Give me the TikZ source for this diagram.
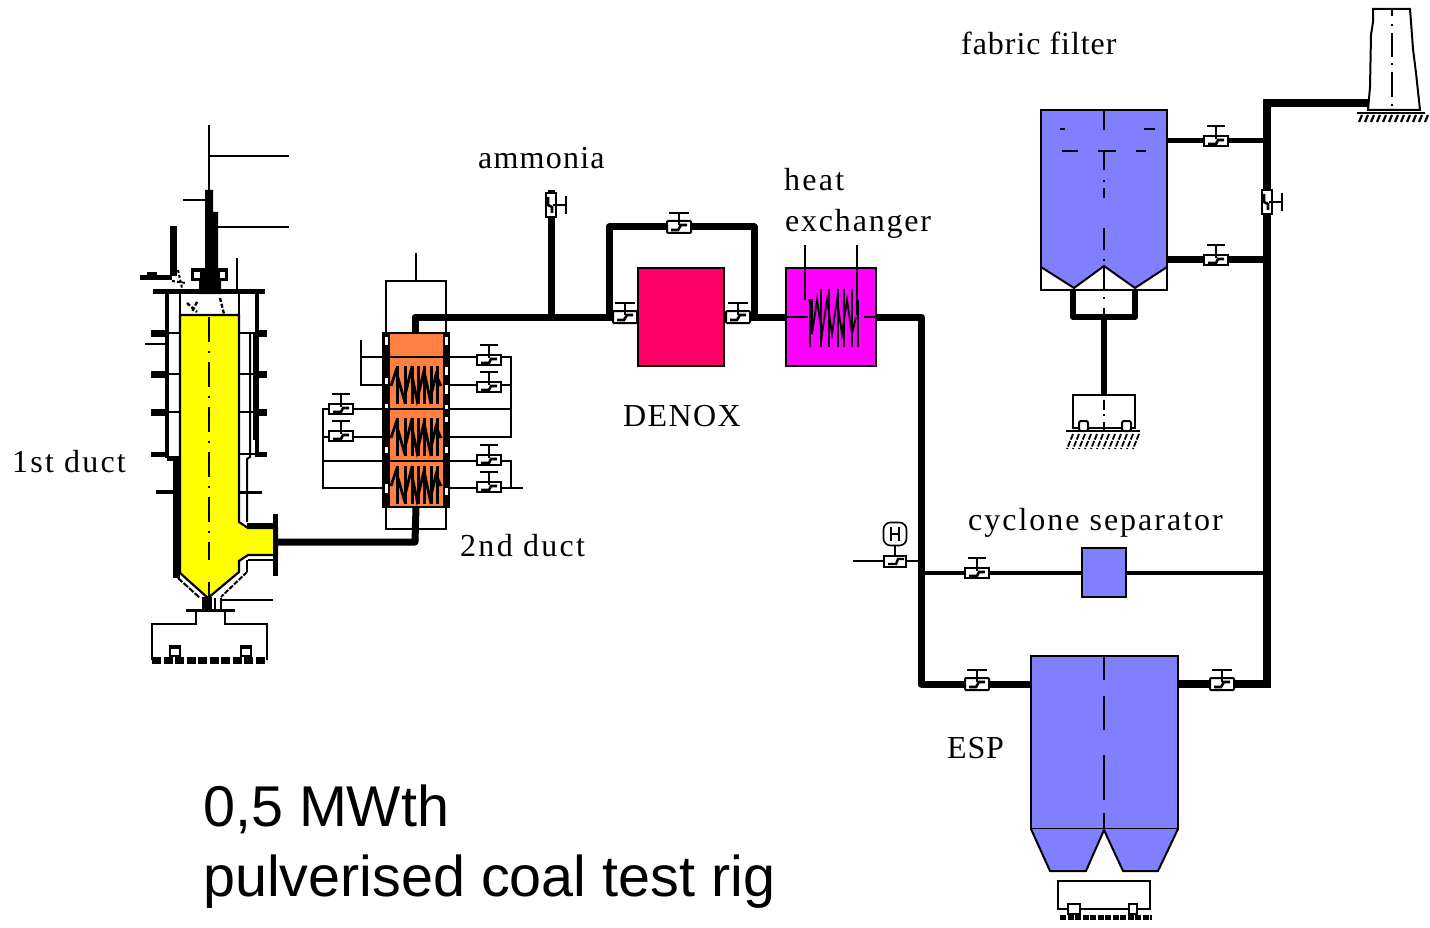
\documentclass[tikz,border=0pt]{standalone}
\usepackage{fontspec}
\setmainfont{Liberation Serif}
\setsansfont{Liberation Sans}
\definecolor{filterblue}{HTML}{8080FF}
\definecolor{denoxred}{HTML}{FF0066}
\definecolor{hexmag}{HTML}{FF00FF}
\definecolor{ductorange}{HTML}{FF8040}
\definecolor{furnaceyellow}{HTML}{FFFF00}
\newcommand{\lbl}[2]{\fontsize{32}{32}\selectfont\addfontfeature{LetterSpace=#1}#2}
\tikzset{
  pipe/.style={line width=7pt,line join=round},
  heavypipe/.style={line width=8pt,line join=miter},
  midpipe/.style={line width=5pt},
  wire/.style={line width=2pt},
  vessel/.style={draw=black,line width=2.2pt,inner sep=0pt,outer sep=0pt},
  axisline/.style={line width=2.6pt,dash pattern=on 25pt off 9pt on 2pt off 9pt},
  label/.style={anchor=base west,inner sep=0pt},
  biglabel/.style={anchor=base west,inner sep=0pt,font=\sffamily\fontsize{57.5}{57.5}\selectfont},
  pics/valve/.style={code={
    \draw[line width=2pt,fill=white,rounded corners=1pt] (-12,-6) rectangle (12,6);
    \draw[line width=2.6pt] (-8,3) -- (-1,3) -- (2,-2) -- (8,-2);
    \draw[line width=2.2pt] (0,-2) -- (0,-14) (-10,-14) -- (10,-14);
  }},
  pics/smallvalve/.style={code={
    \draw[line width=2pt,fill=white] (-12,-5) rectangle (12,5);
    \draw[line width=2.6pt] (-8,3) -- (0,3) -- (2,-1) -- (8,-1);
    \draw[line width=2.2pt] (0,-2) -- (0,-15) (-9,-15) -- (9,-15);
  }},
  pics/coil/.style={code={
    \draw[line width=2.8pt] (-25,1) -- (-20,-14) -- (-12,14) -- (-5,-14) -- (1,15) -- (8,-14) -- (14,14) -- (20,-10) -- (25,1);
    \foreach \vx in {-19,-11,-4,2,8,15,21} \draw[line width=3pt] (\vx,-19) -- (\vx,19);
  }},
  pics/hexcoil/.style={code={
    \draw[line width=1.8pt] (-24,-17) -- (-20,-17) -- (-20,17) -- (-15,-17) -- (-10,17) -- (-5,-17) -- (0,17) -- (5,-17) -- (10,17) -- (15,-17) -- (20,17) -- (24,0);
    \foreach \vx/\vt/\vb in {-22/-17/30,-11/-28/30,-3/-28/30,6/-28/30,12/-28/30,20/-28/30,26/-17/30}
      \draw[line width=2pt] (\vx,\vt) -- (\vx,\vb);
  }}
}
\begin{document}
\begin{tikzpicture}[x=1pt,y=-1pt]
\useasboundingbox (0,0) rectangle (1430,928);
\fill[white] (0,0) rectangle (1430,928);

% ---- named points
\coordinate (chimfoot) at (1368,103);
\coordinate (maintop) at (1267,103);
\coordinate (mainbot) at (1267,684);
\coordinate (riserbot) at (921,684);
\coordinate (risertop) at (921,317);
\coordinate (ammoniaj) at (551,317);
\coordinate (ammoniatop) at (551,190);
\coordinate (byL) at (609,317);
\coordinate (byLt) at (609,227);
\coordinate (byR) at (754,317);
\coordinate (byRt) at (754,227);
\coordinate (d2top) at (415,317);
\coordinate (d2bot) at (415,542);
\coordinate (ffA) at (1267,141);
\coordinate (ffB) at (1267,260);
\coordinate (cycL) at (921,573);
\coordinate (cycR) at (1267,573);
\coordinate (hopL) at (1073,317);
\coordinate (hopR) at (1135,317);
\coordinate (hopM) at (1104,317);

% ---- equipment nodes
\node[vessel,fill=denoxred,minimum width=86pt,minimum height=98pt] (denox) at (681,317) {};
\node[vessel,fill=hexmag,minimum width=90pt,minimum height=98pt] (hex) at (831,317) {};
\node[vessel,fill=filterblue,minimum width=44pt,minimum height=49pt] (cyclone) at (1104,572.5) {};
\node[vessel,fill=filterblue,minimum width=147pt,minimum height=173pt] (esp) at (1104.5,742.5) {};
\node[vessel,fill=white,minimum width=126pt,minimum height=180pt] (ff) at (1104,200) {};
\node[vessel,fill=ductorange,minimum width=66pt,minimum height=174pt] (duct2) at (416,420) {};
\node[vessel,minimum width=60pt,minimum height=52pt] (d2hood) at (416,307) {};
\node[vessel,minimum width=60pt,minimum height=22pt] (d2foot) at (416,518) {};
\coordinate (furnout) at (277,542);
\coordinate (ffR1) at (1167,141);
\coordinate (ffR2) at (1167,260);
\coordinate (trolley) at (1104,395);

% ---- pipes
\draw[heavypipe] (chimfoot) -- (maintop) -- (mainbot) -- (esp.east |- mainbot);
\draw[pipe] (ffB) -- (ffR2);
\draw[midpipe] (ffA) -- (ffR1);
\draw[line width=4pt] (cycL) -- (cycL -| cyclone.west);
\draw[line width=4pt] (cycR -| cyclone.east) -- (cycR);
\draw[pipe] (hex.east |- risertop) -- (risertop) -- (riserbot) -- (esp.west |- riserbot);
\draw[pipe] (byR) -- (hex.west);
\draw[pipe] (byL) -- (byLt) -- (byRt) -- (byR);
\draw[pipe] (byL) -- (denox.west);
\draw[pipe] (denox.east) -- (byR);
\draw[pipe] (furnout) -- (d2bot) -- (duct2.south);
\draw[pipe] (duct2.north -| d2top) -- (d2top) -- (byL);
\draw[line width=7pt] (ammoniaj) -- (ammoniatop);
\draw[line width=6pt,line join=round] (1073,290) -- (hopL) -- (hopR) -- (1135,290);
\draw[line width=6pt] (hopM) -- (trolley);

% ---- valves on the main pipes
\pic at (625,317) {valve};
\pic at (738,317) {valve};
\pic at (679,227) {valve};
\pic at (1216,141) {smallvalve};
\pic at (1216,260) {smallvalve};
\pic at (977,573) {smallvalve};
\pic at (977,684) {valve};
\pic at (1222,684) {valve};
\pic[rotate=-90] at (1267,202) {smallvalve};
\pic[rotate=-90] at (551,205) {smallvalve};

% ---- sampling point
\coordinate (sampW) at (853,561);
\coordinate (sampE) at (919,561);
\draw[wire] (sampW) -- (sampE);
\draw[line width=1.8pt,fill=white] (884,556) rectangle (906,567);
\draw[line width=2.4pt] (888,564) -- (896,564) -- (898,559) -- (904,559);
\draw[wire] (895,556) -- (895,545);
\node[draw=black,line width=1.6pt,rounded corners=7pt,minimum width=23pt,minimum height=23pt,inner sep=0pt,fill=white] (sampH) at (895,534) {};
\draw[line width=2.4pt] (891,527) -- (891,541) (899,527) -- (899,541) (891,534) -- (899,534);

% ---- heat exchanger details
\draw[wire] (786,317) -- (808,317) (864,317) -- (876,317);
\draw[wire] (805,245) -- (805,300) (857,245) -- (857,315);
\pic at (832,317) {hexcoil};

% ---- 2nd duct
\fill (383,333) rectangle (390,507);
\fill (443,333) rectangle (449,507);
\draw[line width=2pt] (386,357) -- (446,357) (386,409) -- (446,409) (386,461) -- (446,461);
\pic at (416,385) {coil};
\pic at (416,437) {coil};
\pic at (416,485) {coil};
\draw[wire] (416,253) -- (d2hood.north);
\foreach \wy/\wh in {337/8,378/6,404/4,447/6,484/9} \fill[white] (384.5,\wy) rectangle (387.5,\wy+\wh);
\foreach \wy/\wh in {337/8,367/8,385/9,405/4,417/5,447/6,488/7} \fill[white] (444.5,\wy) rectangle (447.5,\wy+\wh);
% side branches, right
\draw[wire] (449,357) -- (511,357) -- (511,437) -- (449,437);
\draw[wire] (449,385) -- (511,385) (449,409) -- (511,409);
\draw[wire] (449,461) -- (511,461) -- (511,488);
\draw[wire] (449,488) -- (523,488);
\pic at (489,360) {smallvalve};
\pic at (489,387) {smallvalve};
\pic at (489,460) {smallvalve};
\pic at (489,487) {smallvalve};
% side branches, left
\draw[wire] (361,340) -- (361,385) -- (383,385) (361,357) -- (383,357);
\draw[wire] (383,409) -- (323,409) -- (323,488) -- (383,488);
\draw[wire] (383,437) -- (323,437) (383,461) -- (323,461);
\pic at (341,409) {smallvalve};
\pic at (341,436) {smallvalve};

% ---- fabric filter
\fill[filterblue] (1042,111) -- (1166,111) -- (1166,267) -- (1135,288) -- (1104,266) -- (1074,288) -- (1042,267) -- cycle;
\draw[wire] (1041,267) -- (1074,288) -- (1104,266) -- (1135,288) -- (1167,267);
\node[vessel,minimum width=126pt,minimum height=180pt] (ffo) at (1104,200) {};
\draw[wire] (1104,110) -- (1104,130) (1104,151) -- (1104,170) (1104,180.5) -- (1104,182.5) (1104,188) -- (1104,198) (1104,228) -- (1104,250) (1104,259) -- (1104,261) (1104,266) -- (1104,290);
\draw[wire] (1060,129) -- (1065,129) (1144,129) -- (1155,129) (1062,151) -- (1078,151) (1098,151) -- (1116,151) (1136,151) -- (1146,151);
\draw[wire] (1104,297) -- (1104,299) (1104,308) -- (1104,314);
% trolley under the filter
\draw[wire,fill=white] (1073,395) rectangle (1135,428);
\draw[wire] (1104,400) -- (1104,410) (1104,414) -- (1104,416) (1104,422) -- (1104,432);
\draw[line width=2pt,fill=white,rounded corners=2pt] (1079,421) rectangle (1088,431);
\draw[line width=2pt,fill=white,rounded corners=2pt] (1122,421) rectangle (1131,431);
\draw[line width=2.6pt] (1066,431) -- (1140,431);
\foreach \hx in {1073,1079,...,1141} \draw[line width=1.8pt,dash pattern=on 6pt off 1.5pt] (\hx,434) -- (\hx-6,449);

% ---- chimney
\draw[wire,fill=white] (1373,9) -- (1410,9) -- (1411,22) -- (1413,49) -- (1416,73) -- (1420,110) -- (1368,110) -- (1370,87) -- (1371,35) -- (1373,22) -- cycle;
\draw[line width=2pt] (1392,9) -- (1392,16) (1392,24) -- (1392,26) (1392,33) -- (1392,57) (1392,63) -- (1392,65) (1392,72) -- (1392,97) (1392,104) -- (1392,106);
\draw[line width=2.4pt] (1357,113) -- (1425,113);
\foreach \hx in {1362,1368,...,1428} \draw[line width=2.2pt] (\hx,115) -- (\hx-3,122);

% ---- ESP
\draw[line width=2.2pt] (esp.south west) -- (esp.south east);
\draw[wire] (1104,656) -- (1104,680) (1104,696) -- (1104,730) (1104,755) -- (1104,800) (1104,813) -- (1104,830);
\draw[wire,fill=filterblue] (1031,829) -- (1050,871) -- (1086,871) -- (1104,830) -- (1123,871) -- (1158,871) -- (1178,829);
\draw[wire,fill=white] (1058,881) rectangle (1150,909);
\draw[line width=2pt,fill=white] (1068,904) rectangle (1080,914);
\draw[line width=2pt,fill=white] (1129,904) rectangle (1137,914);
\draw[line width=5pt,dash pattern=on 6pt off 1.5pt] (1060,917) -- (1152,917);

% ---- 1st duct: furnace
\draw[line width=5pt] (153,291) -- (265,291);
\draw[line width=4pt] (167,291) -- (167,458);
\draw[line width=4pt] (257,291) -- (257,457);
\draw[line width=2pt] (250,333) -- (250,457) -- (247,459) -- (247,522);
\draw[line width=2pt] (254,333) -- (254,440);
\draw[line width=2pt] (180,291) -- (180,315) (239,291) -- (239,315);
\draw[line width=7pt] (176.5,458) -- (176.5,578);
\draw[line width=5pt] (167,458) -- (180,458);
\foreach \ry in {333,374,412} {
  \draw[line width=7pt] (151,\ry) -- (167,\ry);
  \draw[line width=7pt] (257,\ry) -- (267,\ry);
  \draw[line width=2pt] (167,\ry) -- (180,\ry) (239,\ry) -- (257,\ry);
}
\draw[line width=2.4pt] (145,344) -- (166,344);
\draw[line width=5pt] (151,454) -- (167,454) (257,454) -- (267,454);
\draw[line width=2pt] (239,454) -- (257,454);
\draw[line width=4pt] (156,492) -- (173,492);
\draw[line width=3pt] (240,492) -- (262,492);
% yellow body
\draw[line width=2.2pt,fill=furnaceyellow] (180,315) -- (239,315) -- (239,522) -- (248,528) -- (277,528) -- (277,555) -- (248,555) -- (239,561) -- (239,572) -- (208,598) -- (180,573) -- cycle;
\draw[line width=5pt] (247,525) -- (276,525);
\draw[line width=2pt] (248,560) -- (276,560) (247,560) -- (247,572);
\draw[line width=2pt,dash pattern=on 5pt off 1.5pt] (247,572) -- (221,597);
\draw[line width=2pt,dash pattern=on 6pt off 1.5pt] (178,578) -- (200,598);
\draw[line width=5.5pt] (275.5,514) -- (275.5,576);
\draw[axisline] (209,317) -- (209,560);
\draw[line width=2.6pt] (209,582) -- (209,597);
% head of the furnace
\draw[line width=2.5pt] (209,125) -- (209,190);
\draw[line width=2.5pt] (209,156) -- (289,156) (218,227) -- (289,227) (183,200) -- (205,200);
\fill (205,190) -- (213,190) -- (213,212) -- (218,212) -- (218,280) -- (221,280) -- (221,294) -- (199,294) -- (199,280) -- (205,280) -- cycle;
\draw[line width=3pt] (192,270) rectangle (226,279);
\fill (200,270) rectangle (220,279);
\draw[line width=7pt] (173,226) -- (173,276);
\draw[line width=5pt] (140,277) -- (172,277);
\fill (147,272) rectangle (157,276);
\draw[line width=2pt,dash pattern=on 3pt off 2pt] (172,281) -- (186,283) (178,270) -- (182,288);
\draw[line width=2pt] (237,258) -- (237,291);
\draw[line width=2.4pt,dash pattern=on 4pt off 2pt] (187,303) -- (197,312) (197,302) -- (192,312) (220,298) -- (224,314);
% base of the furnace
\fill (202,597) rectangle (212,610);
\draw[line width=2pt] (215,598) -- (215,610) (221,598) -- (221,610);
\draw[line width=2pt] (222,600) -- (273,600);
\draw[line width=3pt] (186,610) -- (235,610);
\draw[line width=2.4pt] (196,610) -- (196,624) -- (152,624) -- (152,660);
\draw[line width=2.4pt] (225,610) -- (225,624) -- (267,624) -- (267,660);
\fill (169,645) rectangle (181,650);
\fill (240,645) rectangle (252,650);
\draw[line width=2pt,fill=white] (170,648) rectangle (180,656);
\draw[line width=2pt,fill=white] (241,648) rectangle (251,656);
\draw[line width=7pt,dash pattern=on 9pt off 2.5pt] (152,660) -- (267,660);

% ---- labels
\node[label] (l1) at (12,472) {\lbl{6.9}{1st duct}};
\node[label] (l2) at (460,556) {\lbl{7.2}{2nd duct}};
\node[label] (l3) at (478,169) {\lbl{3.8}{ammonia}};
\node[label] (l4) at (784,191) {\lbl{7}{heat}};
\node[label] (l5) at (785,232) {\lbl{5.6}{exchanger}};
\node[label] (l6) at (623,426) {\lbl{4.4}{DENOX}};
\node[label] (l7) at (961,55) {\lbl{3}{fabric filter}};
\node[label] (l8) at (968,530) {\lbl{6.2}{cyclone separator}};
\node[label] (l9) at (947,758) {\lbl{2.5}{ESP}};
\node[biglabel] (l10) at (203,826) {0,5 MWth};
\node[biglabel] (l11) at (203,896) {pulverised coal test rig};
\end{tikzpicture}
\end{document}
